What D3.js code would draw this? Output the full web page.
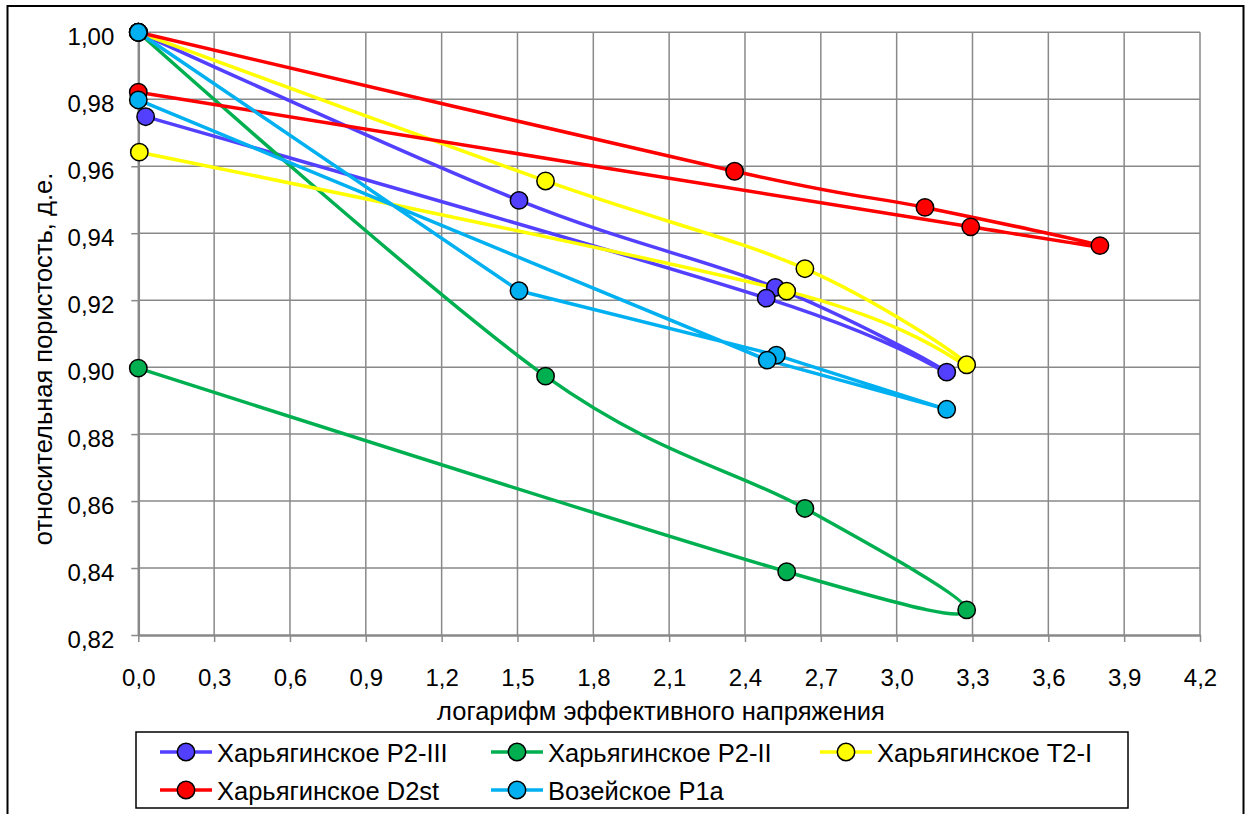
<!DOCTYPE html>
<html>
<head>
<meta charset="utf-8">
<script src="https://cdn.jsdelivr.net/npm/d3@7"></script>
<style>
  body { margin: 0; background: #fff; }
  svg { display: block; font-family: "Liberation Sans", Arial, sans-serif; }
</style>
</head>
<body>
<div id="chart"></div>
<script>
// series names and colours, legend order
var seriesNames = ['Харьягинское P2-III', 'Харьягинское P2-II', 'Харьягинское T2-I',
                   'Харьягинское D2st', 'Возейское P1a'];
var seriesColors = ['#5340ff', '#00b050', '#ffff00', '#ff0000', '#00b0f0'];

// loading then unloading, back to zero stress
var xP2III = [0, 1.506, 2.52, 3.198, 2.484, 0.029];
var yP2III = [1.000, 0.9498, 0.9238, 0.8985, 0.9206, 0.9748];
var xP2II = [0, 1.611, 2.637, 3.277, 2.565, 0];
var yP2II = [1.000, 0.8973, 0.8578, 0.8275, 0.8389, 0.8997];
var xT2I = [0, 1.611, 2.637, 3.277, 2.565, 0.004];
var yT2I = [1.000, 0.9556, 0.9294, 0.9007, 0.9227, 0.9642];
var xD2st = [0, 2.359, 3.112, 3.804, 3.293, 0];
var yD2st = [1.000, 0.9585, 0.9477, 0.9363, 0.9419, 0.9821];
var xP1a = [0, 1.506, 2.524, 3.198, 2.488, 0];
var yP1a = [1.000, 0.9228, 0.9036, 0.8874, 0.9021, 0.9798];

var xTicks = [0, 0.3, 0.6, 0.9, 1.2, 1.5, 1.8, 2.1, 2.4, 2.7, 3.0, 3.3, 3.6, 3.9, 4.2];
var yTicks = [0.82, 0.84, 0.86, 0.88, 0.90, 0.92, 0.94, 0.96, 0.98, 1.00];

var xTitle = 'логарифм эффективного напряжения';
var yTitle = 'относительная пористость, д.е.';

var W = 1251, H = 814;
var FONT = 24;       // tick labels
var FONT_T = 25.5;   // titles and legend
var GRID = '#898989';

var svg = d3.select('#chart').append('svg')
  .attr('width', W)
  .attr('height', H);

svg.append('rect').attr('width', W).attr('height', H).attr('fill', '#fff');

// outer chart frame (bottom edge lies below the picture)
svg.append('rect')
  .attr('x', 7.5).attr('y', 6)
  .attr('width', 1236).attr('height', 830)
  .attr('fill', 'none')
  .attr('stroke', '#000')
  .attr('stroke-width', 2);

var x = d3.scaleLinear().domain([0, 4.2]).range([138.3, 1200]);
var y = d3.scaleLinear().domain([0.82, 1.00]).range([635, 32.3]);

function comma(fmt) {
  var f = d3.format(fmt);
  return function (d) { return f(d).replace('.', ','); };
}

// grid
var grid = svg.append('g');
grid.selectAll('.gx').data(xTicks.slice(1)).enter().append('line')
  .attr('x1', function (d) { return x(d); })
  .attr('x2', function (d) { return x(d); })
  .attr('y1', y(1.00)).attr('y2', y(0.82))
  .attr('stroke', GRID).attr('stroke-width', 1.5);
grid.selectAll('.gy').data(yTicks.slice(1)).enter().append('line')
  .attr('x1', x(0)).attr('x2', x(4.2))
  .attr('y1', function (d) { return y(d); })
  .attr('y2', function (d) { return y(d); })
  .attr('stroke', GRID).attr('stroke-width', 1.5);

// axes
var xAxis = svg.append('g')
  .attr('transform', 'translate(0,' + y(0.82) + ')')
  .call(d3.axisBottom(x).tickValues(xTicks).tickFormat(comma('.1f'))
    .tickSizeInner(7).tickSizeOuter(0).tickPadding(27));
var yAxis = svg.append('g')
  .attr('transform', 'translate(' + x(0) + ',0)')
  .call(d3.axisLeft(y).tickValues(yTicks).tickFormat(comma('.2f'))
    .tickSizeInner(7).tickSizeOuter(0).tickPadding(17));

[xAxis, yAxis].forEach(function (a) {
  a.select('.domain').attr('stroke', GRID).attr('stroke-width', 2.5);
  a.selectAll('.tick line').attr('stroke', GRID).attr('stroke-width', 1.5);
  a.selectAll('.tick text')
    .attr('fill', '#000')
    .style('font-size', FONT + 'px')
    .style('font-family', '"Liberation Sans", Arial, sans-serif');
});
yAxis.selectAll('.tick text').attr('dy', '0.5em');

// axis titles
svg.append('text')
  .attr('x', 661).attr('y', 720)
  .attr('text-anchor', 'middle')
  .style('font-size', FONT_T + 'px')
  .text(xTitle);
svg.append('text')
  .attr('transform', 'translate(52,359) rotate(-90)')
  .attr('text-anchor', 'middle')
  .style('font-size', FONT_T + 'px')
  .text(yTitle);

// series
var allX = [xP2III, xP2II, xT2I, xD2st, xP1a];
var allY = [yP2III, yP2II, yT2I, yD2st, yP1a];
var series = seriesNames.map(function (name, i) {
  return {
    name: name,
    color: seriesColors[i],
    points: allX[i].map(function (v, j) { return [v, allY[i][j]]; })
  };
});

// Возейское is drawn with straight segments, the rest smoothed
var smoothLine = d3.line()
  .x(function (d) { return x(d[0]); })
  .y(function (d) { return y(d[1]); })
  .curve(d3.curveCatmullRom.alpha(0));
var straightLine = d3.line()
  .x(function (d) { return x(d[0]); })
  .y(function (d) { return y(d[1]); });

svg.append('g').selectAll('path').data(series).enter().append('path')
  .attr('d', function (s, i) { return i === 4 ? straightLine(s.points) : smoothLine(s.points); })
  .attr('fill', 'none')
  .attr('stroke', function (s) { return s.color; })
  .attr('stroke-width', 3.5)
  .attr('stroke-linejoin', 'round');

var markers = svg.append('g');
series.forEach(function (s) {
  markers.append('g').selectAll('circle').data(s.points).enter().append('circle')
    .attr('cx', function (d) { return x(d[0]); })
    .attr('cy', function (d) { return y(d[1]); })
    .attr('r', 8.7)
    .attr('fill', s.color)
    .attr('stroke', '#000')
    .attr('stroke-width', 1.5);
});

// legend
var legend = svg.append('g');
legend.append('rect')
  .attr('x', 136).attr('y', 732)
  .attr('width', 992).attr('height', 76)
  .attr('fill', '#fff')
  .attr('stroke', '#000')
  .attr('stroke-width', 1.5);

var legendCols = [186, 517, 846];
var legendRows = [752, 790];
series.forEach(function (s, i) {
  var cx = legendCols[i % 3], cy = legendRows[Math.floor(i / 3)];
  var g = legend.append('g');
  g.append('line')
    .attr('x1', cx - 26).attr('x2', cx + 26)
    .attr('y1', cy).attr('y2', cy)
    .attr('stroke', s.color).attr('stroke-width', 3.5);
  g.append('circle')
    .attr('cx', cx).attr('cy', cy).attr('r', 8.7)
    .attr('fill', s.color).attr('stroke', '#000').attr('stroke-width', 1.5);
  g.append('text')
    .attr('x', cx + 31).attr('y', cy + 9.5)
    .style('font-size', FONT_T + 'px')
    .text(s.name);
});
</script>
</body>
</html>
